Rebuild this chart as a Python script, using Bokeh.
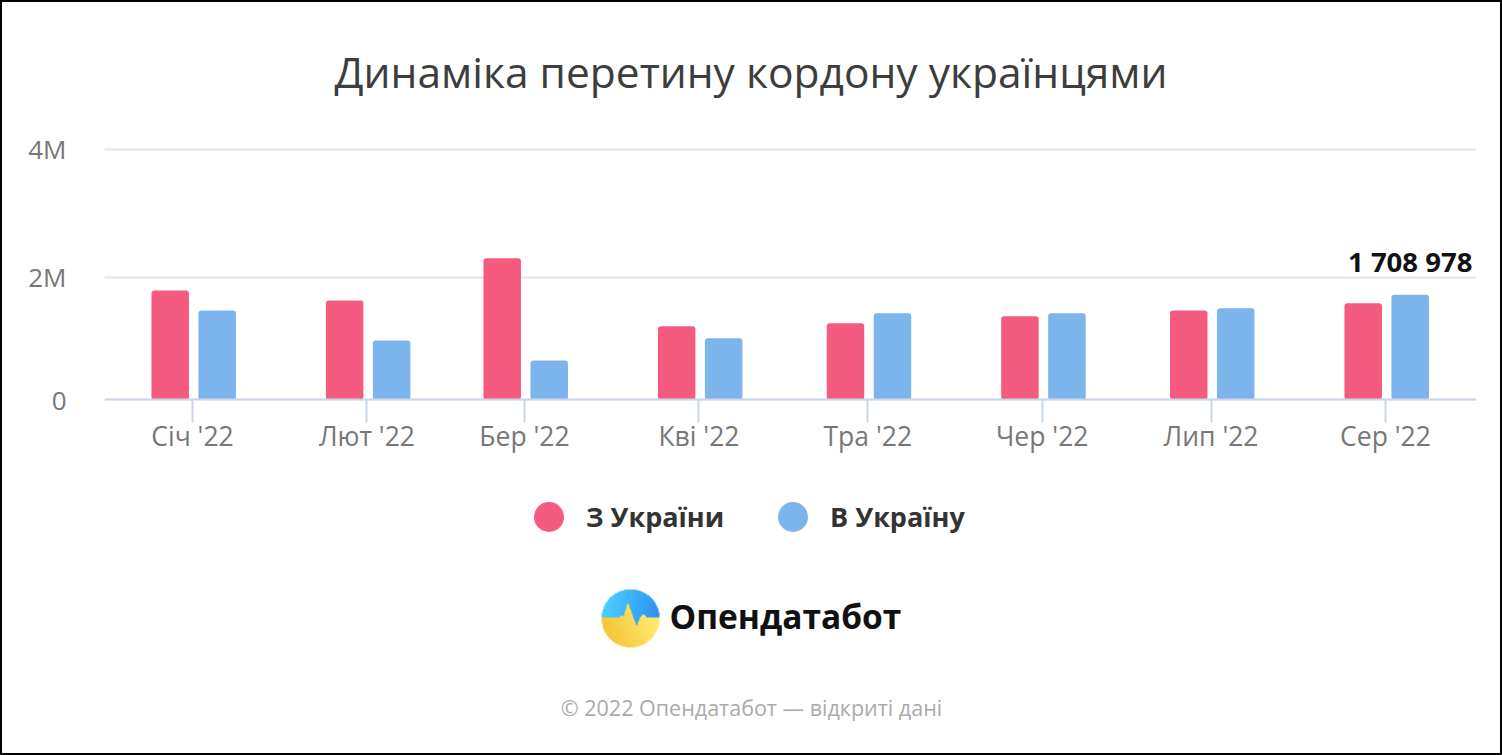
import numpy as np
import pandas as pd
from bokeh.core.properties import value
from bokeh.embed import file_html
from bokeh.layouts import column
from bokeh.models import FixedTicker, Legend, LegendItem, Range1d
from bokeh.plotting import figure
from bokeh.resources import INLINE

# --- data ---
months = ["2022-01-01", "2022-02-01", "2022-03-01", "2022-04-01",
          "2022-05-01", "2022-06-01", "2022-07-01", "2022-08-01"]
month_labels = ["Січ '22", "Лют '22", "Бер '22", "Кві '22", "Тра '22", "Чер '22", "Лип '22", "Сер '22"]
from_ukraine = [1779000, 1617000, 2305000, 1199000, 1248000, 1362000, 1454000, 1573000]
to_ukraine = [1454000, 966000, 641000, 1004000, 1410000, 1410000, 1492000, 1708978]
title_text = "Динаміка перетину кордону українцями"
series_names = ["З України", "В Україну"]
value_label = "1 708 978"
footer_text = "© 2022 Опендатабот — відкриті дані"
logo_text = "Опендатабот"
# In the picture the upper gridline sits slightly above a true 4M on the bars' scale
# (2M and the labelled bar agree with each other); the tick is placed where it is drawn.
y_ticks = [0, 2000000, 4077000]
y_tick_labels = ["0", "2M", "4M"]

RED, BLUE = "#f45b7f", "#7cb5ec"
FONT = "Open Sans"
DAY = 86400000.0
PX_PER_DAY = (1385 - 192) / 212
PX_PER_UNIT = 61.4 / 1e6
EDGE = 2  # black page frame, drawn as the border of the wrapping column

t = [pd.Timestamp(m).timestamp() * 1000 for m in months]
W, H = 1502 - 2 * EDGE, 755 - 2 * EDGE
FRAME_TOP, FRAME_BOTTOM, FRAME_LEFT, FRAME_RIGHT = 100, 755 - EDGE, 104, 1476
zero_px = 399.3

x0 = t[0] + (FRAME_LEFT - 192) / PX_PER_DAY * DAY
x1 = t[0] + (FRAME_RIGHT - 192) / PX_PER_DAY * DAY
y0 = (zero_px - FRAME_BOTTOM) / PX_PER_UNIT
y1 = (zero_px - FRAME_TOP) / PX_PER_UNIT

p = figure(width=W, height=H, output_backend="svg", toolbar_location=None,
           x_range=Range1d(x0, x1), y_range=Range1d(y0, y1),
           min_border_left=FRAME_LEFT - EDGE, min_border_right=1502 - EDGE - FRAME_RIGHT,
           min_border_top=FRAME_TOP - EDGE, min_border_bottom=0,
           background_fill_color="white", border_fill_color="white", outline_line_color=None, margin=0)
# page-pixel ranges for the extras under the chart (logo, footer)
p.extra_x_ranges["px"] = Range1d(FRAME_LEFT, FRAME_RIGHT)
p.extra_y_ranges["px"] = Range1d(755 - FRAME_BOTTOM, 755 - FRAME_TOP)

bar_w = 37.5 / PX_PER_DAY * DAY
red_x = [v - 22.3 / PX_PER_DAY * DAY for v in t]
blue_x = [v + 24.7 / PX_PER_DAY * DAY for v in t]
p.vbar(x=red_x, top=from_ukraine, width=bar_w, bottom=0, color=RED, line_color=None, border_radius=3)
p.vbar(x=blue_x, top=to_ukraine, width=bar_w, bottom=0, color=BLUE, line_color=None, border_radius=3)

p.text(x=[blue_x[-1]], y=[to_ukraine[-1]], text=[value_label], text_align="center", text_baseline="bottom",
       y_offset=-15, text_font=value(FONT), text_font_size="27.5px", text_font_style="bold", text_color="#111111")

xa = p.xaxis[0]
xa.fixed_location = 0
xa.ticker = FixedTicker(ticks=t)
xa.major_label_overrides = {int(v): s for v, s in zip(t, month_labels)}
xa.minor_tick_line_color = None
xa.major_tick_in = 0
xa.major_tick_out = 23
xa.major_tick_line_color = "#ccd6eb"
xa.major_tick_line_width = 2
xa.axis_line_color = "#ccd6eb"
xa.axis_line_width = 2
xa.major_label_standoff = -5
xa.major_label_text_font = FONT
xa.major_label_text_font_size = "26.5px"
xa.major_label_text_color = "#777777"

ya = p.yaxis[0]
ya.ticker = FixedTicker(ticks=y_ticks)
ya.major_label_overrides = dict(zip(y_ticks, y_tick_labels))
ya.axis_line_color = None
ya.major_tick_line_color = None
ya.minor_tick_line_color = None
ya.major_tick_in = 0
ya.major_tick_out = 0
ya.major_label_standoff = 38
ya.major_label_text_font = FONT
ya.major_label_text_font_size = "26px"
ya.major_label_text_color = "#777777"

p.xgrid.grid_line_color = None
p.ygrid.grid_line_color = "#e6e6e6"
p.ygrid.grid_line_width = 2
p.ygrid.ticker = FixedTicker(ticks=y_ticks)

p.title.text = title_text
p.title.align = "left"
p.title.offset = 334 - FRAME_LEFT
p.title.standoff = 2
p.title.text_font = FONT
p.title.text_font_size = "42.5px"
p.title.text_font_style = "normal"
p.title.text_color = "#3d3d3d"

# legend proxies: a NaN point draws nothing on the chart but gives the legend its circle
r1 = p.scatter([float("nan")], [float("nan")], marker="circle", color=RED, line_color=None)
r2 = p.scatter([float("nan")], [float("nan")], marker="circle", color=BLUE, line_color=None)
legend = Legend(items=[LegendItem(label=series_names[0], renderers=[r1]),
                       LegendItem(label=series_names[1], renderers=[r2])],
                orientation="horizontal", location=(407, FRAME_BOTTOM - 554), glyph_width=75, glyph_height=75,
                label_standoff=0, spacing=31, padding=0, margin=0, border_line_color=None,
                background_fill_alpha=0, label_text_font=FONT, label_text_font_size="27px",
                label_text_font_style="bold", label_text_color="#333333", label_height=75)
p.add_layout(legend, "center")

# --- logo and footer ---
n = 240
xx, yy = np.meshgrid((np.arange(n) + .5) / n * 60 + 600, 648 - (np.arange(n) + .5) / n * 60)
horizon = np.interp(xx, [600, 619, 620.5, 623, 627, 631, 636, 640, 643, 646, 660],
                    [617, 617, 615, 616, 602, 612, 626, 616, 614, 617, 617])
blue_mix = np.clip((xx - 601 + (yy - 588) * .2) / 58, 0, 1)[..., None]
yellow_mix = np.clip((xx - 601 - (yy - 617) * .5 + 10) / 58, 0, 1)[..., None]
top_col = np.array([79, 214, 255]) * (1 - blue_mix) + np.array([47, 150, 245]) * blue_mix
bot_col = np.array([246, 192, 45]) * (1 - yellow_mix) + np.array([255, 232, 110]) * yellow_mix
rgb = np.where((yy < horizon)[..., None], top_col, bot_col)
dist = np.hypot(xx - 630, yy - 618)
alpha = np.clip((29.2 - dist) * 4, 0, 1) * 255
img = np.zeros((n, n), dtype=np.uint32)
view = img.view(dtype=np.uint8).reshape((n, n, 4))
view[..., :3] = rgb.astype(np.uint8)
view[..., 3] = alpha.astype(np.uint8)
p.image_rgba(image=[img], x=600, y=755 - 648, dw=60, dh=60, x_range_name="px", y_range_name="px")

p.text(x=[669], y=[755 - 615], text=[logo_text], text_align="left", text_baseline="middle",
       text_font=value(FONT), text_font_size="33.5px", text_font_style="bold", text_color="#111111",
       x_range_name="px", y_range_name="px")
p.text(x=[751], y=[755 - 707], text=[footer_text], text_align="center", text_baseline="middle",
       text_font=value(FONT), text_font_size="21.5px", text_color="#aaaaaa",
       x_range_name="px", y_range_name="px")

page = column(p, spacing=0, margin=0, styles={"background": "#ffffff", "border": "2px solid #000000"})
open("out.html", "w").write(file_html(page, INLINE))
